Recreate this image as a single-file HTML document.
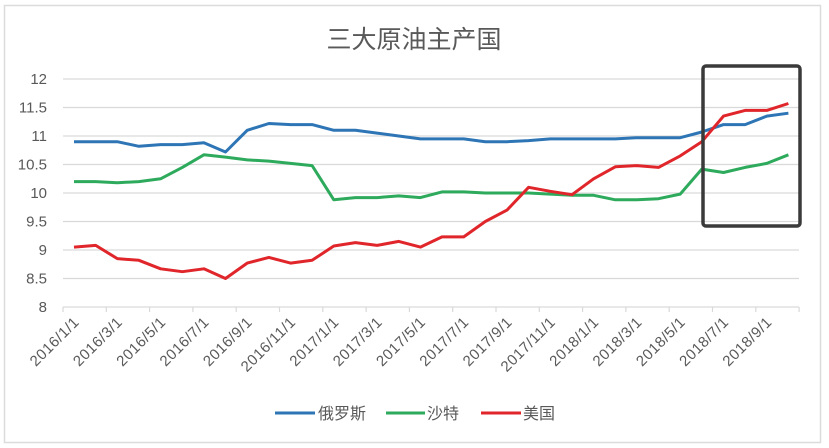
<!DOCTYPE html>
<html><head><meta charset="utf-8"><style>
html,body{margin:0;padding:0;background:#fff;}
svg{display:block;}
text{font-family:"Liberation Sans","Noto Sans CJK SC",sans-serif;}
</style></head><body>
<svg width="829" height="448" viewBox="0 0 829 448" xmlns="http://www.w3.org/2000/svg">
<rect x="4.5" y="5.5" width="816" height="437" fill="#fff" stroke="#dcdcdc" stroke-width="1.5"/>
<text x="414" y="48" font-size="25" fill="#595959" text-anchor="middle">三大原油主产国</text>
<g id="grid" stroke="#d9d9d9" stroke-width="1.2"></g>
<g id="ylab" font-size="15" fill="#595959" text-anchor="end"></g>
<g id="xlab" font-size="15" fill="#595959" text-anchor="end" letter-spacing="0.5"></g>
<g id="lines" fill="none" stroke-width="3" stroke-linejoin="round"></g>
<rect x="703" y="66" width="97" height="160" rx="3" fill="none" stroke="#3a3a3a" stroke-width="3.5"/>
<g font-size="16" fill="#595959">
<line x1="275" y1="413" x2="315" y2="413" stroke="#2e75b6" stroke-width="3"/>
<text x="318" y="419">俄罗斯</text>
<line x1="386" y1="413" x2="425" y2="413" stroke="#2eaa5c" stroke-width="3"/>
<text x="427" y="419">沙特</text>
<line x1="481" y1="413" x2="521" y2="413" stroke="#e0262b" stroke-width="3"/>
<text x="523" y="419">美国</text>
</g>
</svg>
<script>
const ns="http://www.w3.org/2000/svg";
function el(p,t,a,txt){const e=document.createElementNS(ns,t);for(const k in a)e.setAttribute(k,a[k]);if(txt!==undefined)e.textContent=txt;document.getElementById(p).appendChild(e);return e;}
const Y=v=>307-(v-8)*57, X=i=>74+i*21.65;
for(let k=0;k<=8;k++){const v=8+k*0.5,y=Y(v);el('grid','line',{x1:63,x2:799,y1:y,y2:y});el('ylab','text',{x:47,y:y+5},String(v));}
for(let i=0;i<=34;i+=2){const x=63+i*21.65;el('grid','line',{x1:x,x2:x,y1:307,y2:312});}
const labs=["2016/1/1","2016/3/1","2016/5/1","2016/7/1","2016/9/1","2016/11/1","2017/1/1","2017/3/1","2017/5/1","2017/7/1","2017/9/1","2017/11/1","2018/1/1","2018/3/1","2018/5/1","2018/7/1","2018/9/1"];
labs.forEach((l,j)=>{const x=X(j*2)+6,y=323;el('xlab','text',{x:x,y:y,transform:`rotate(-45 ${x} ${y})`},l);});
const d={
"#2e75b6":[10.9,10.9,10.9,10.82,10.85,10.85,10.88,10.72,11.1,11.22,11.2,11.2,11.1,11.1,11.05,11.0,10.95,10.95,10.95,10.9,10.9,10.92,10.95,10.95,10.95,10.95,10.97,10.97,10.97,11.07,11.2,11.2,11.35,11.4],
"#2eaa5c":[10.2,10.2,10.18,10.2,10.25,10.45,10.67,10.63,10.58,10.56,10.52,10.48,9.88,9.92,9.92,9.95,9.92,10.02,10.02,10.0,10.0,10.0,9.98,9.96,9.96,9.88,9.88,9.9,9.98,10.42,10.36,10.45,10.52,10.67],
"#e0262b":[9.05,9.08,8.85,8.82,8.67,8.62,8.67,8.5,8.77,8.87,8.77,8.82,9.07,9.13,9.08,9.15,9.05,9.23,9.23,9.5,9.7,10.1,10.03,9.97,10.25,10.46,10.48,10.45,10.65,10.9,11.35,11.45,11.45,11.57]};
for(const c in d){el('lines','polyline',{stroke:c,points:d[c].map((v,i)=>X(i).toFixed(1)+','+Y(v).toFixed(1)).join(' ')});}
</script>
</body></html>
